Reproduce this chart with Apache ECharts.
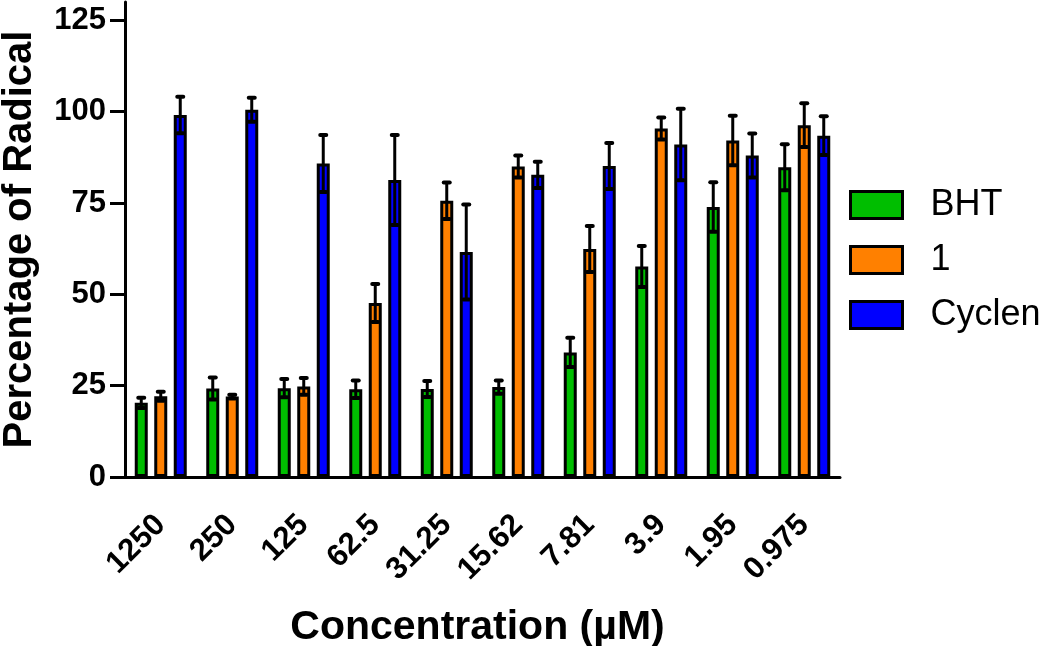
<!DOCTYPE html>
<html>
<head>
<meta charset="utf-8">
<script src="https://cdn.jsdelivr.net/npm/echarts@6/dist/echarts.min.js"></script>
<style>
html,body{margin:0;padding:0;background:#fff;}
#chart{width:1050px;height:646px;}
</style>
</head>
<body>
<div id="chart"></div>
<script>
const categories = ['1250', '250', '125', '62.5', '31.25', '15.62', '7.81', '3.9', '1.95', '0.975'];
const seriesNames = ['BHT', '1', 'Cyclen'];
const bhtMean = [20.3, 24.2, 24.3, 24.0, 24.1, 24.6, 34.1, 57.6, 73.9, 84.8];
const bhtSD = [1.4, 3.0, 2.5, 2.4, 2.2, 1.8, 4.0, 5.6, 6.8, 6.3];
const oneMean = [22.1, 22.0, 24.8, 47.6, 75.6, 85.0, 62.4, 95.4, 92.1, 96.3];
const oneSD = [1.2, 0.5, 2.3, 5.2, 5.0, 3.0, 6.3, 3.0, 6.8, 6.0];
const cycMean = [99.1, 100.5, 85.8, 81.3, 61.6, 82.7, 85.1, 91.0, 88.0, 93.4];
const cycSD = [5.0, 3.3, 7.8, 12.3, 13.0, 3.6, 6.3, 9.8, 6.0, 5.3];
const yTicks = [0, 25, 50, 75, 100, 125];
const colors = ['#00BE00', '#FF8000', '#0000FF'];

const FONT = '"Liberation Sans", Arial, Helvetica, sans-serif';
const BAR_W = 13;
const BAR_GAP = 0.5;
const PITCH = BAR_W * (1 + BAR_GAP);

const means = [bhtMean, oneMean, cycMean];
const sds = [bhtSD, oneSD, cycSD];

function errRender(offset) {
  return function (params, api) {
    const x = api.value(0), m = api.value(1), sd = api.value(2);
    const top = api.coord([x, m + sd]);
    const bot = api.coord([x, m - sd]);
    const cx = top[0] + offset;
    const st = { stroke: '#000', lineWidth: 3, fill: null };
    const cap = { stroke: '#000', lineWidth: 4, lineCap: 'round', fill: null };
    return {
      type: 'group',
      children: [
        { type: 'line', shape: { x1: cx, y1: top[1], x2: cx, y2: bot[1] }, style: st },
        { type: 'line', shape: { x1: cx - 3, y1: top[1], x2: cx + 3, y2: top[1] }, style: cap },
        { type: 'line', shape: { x1: cx - 3, y1: bot[1], x2: cx + 3, y2: bot[1] }, style: cap }
      ]
    };
  };
}

const series = [];
seriesNames.forEach((name, i) => {
  series.push({
    name: name,
    type: 'bar',
    data: means[i],
    barWidth: BAR_W,
    barGap: (BAR_GAP * 100) + '%',
    itemStyle: { color: colors[i], borderColor: '#000', borderWidth: 3 },
    z: 2
  });
});
seriesNames.forEach((name, i) => {
  series.push({
    type: 'custom',
    name: name + ' SD',
    data: categories.map((c, k) => [k, means[i][k], sds[i][k]]),
    renderItem: errRender((i - 1) * PITCH),
    z: 5,
    silent: true
  });
});

const chart = echarts.init(document.getElementById('chart'), null, { renderer: 'canvas' });
chart.setOption({
  animation: false,
  backgroundColor: '#fff',
  textStyle: { fontFamily: FONT },
  grid: { left: 125, right: 210, top: 2, bottom: 169, containLabel: false, outerBoundsMode: 'none' },
  legend: {
    data: seriesNames,
    orient: 'vertical',
    left: 849,
    top: 187,
    padding: 0,
    itemWidth: 52,
    itemHeight: 27,
    itemGap: 19,
    icon: 'rect',
    itemStyle: { borderColor: '#000', borderWidth: 3 },
    textStyle: { fontFamily: FONT, fontSize: 36, color: '#000', padding: [0, 0, 0, 23] }
  },
  xAxis: {
    type: 'category',
    data: categories,
    boundaryGap: true,
    name: 'Concentration (µM)',
    nameLocation: 'middle',
    nameGap: 130,
    nameTextStyle: { fontFamily: FONT, fontSize: 41, fontWeight: 'bold', color: '#000', padding: [0, 10, 0, 0] },
    axisLine: { lineStyle: { color: '#000', width: 3 } },
    axisTick: { alignWithLabel: true, length: 14, lineStyle: { color: '#000', width: 3 } },
    axisLabel: { interval: 0, rotate: 45, margin: 43, fontFamily: FONT, fontSize: 31, fontWeight: 'bold', color: '#000' },
    splitLine: { show: false }
  },
  yAxis: {
    type: 'value',
    min: 0,
    max: 130,
    interval: 25,
    name: 'Percentage of Radical',
    nameLocation: 'middle',
    nameGap: 85,
    nameTextStyle: { fontFamily: FONT, fontSize: 40, fontWeight: 'bold', color: '#000' },
    axisLine: { show: true, lineStyle: { color: '#000', width: 3 } },
    axisTick: { show: true, length: 15, lineStyle: { color: '#000', width: 3 }, customValues: yTicks },
    axisLabel: {
      margin: 19, fontFamily: FONT, fontSize: 31, fontWeight: 'bold', color: '#000',
      customValues: yTicks,
      formatter: v => (v % 25 === 0 ? String(v) : '')
    },
    splitLine: { show: false }
  },
  series: series
});
</script>
</body>
</html>
